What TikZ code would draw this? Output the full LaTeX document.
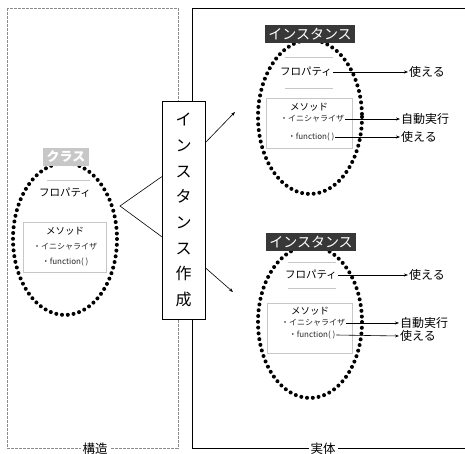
\documentclass[tikz,border=0pt]{standalone}
\usepackage{fontspec}
\setmainfont{Noto Sans CJK JP}
\usetikzlibrary{arrows.meta,calc}
\begin{document}
\begin{tikzpicture}[x=1pt,y=-1pt,
  dotell/.style={draw, line width=4pt, dash pattern=on 0pt off 5.8pt, line cap=round},
  inst/.style={fill=black!78, text=white, font=\fontsize{14}{15}\selectfont, minimum width=90pt, minimum height=18pt, inner sep=0pt},
  cls/.style={fill=black!22, text=white, font=\fontsize{13}{14}\selectfont\bfseries, minimum width=46pt, minimum height=18pt, inner sep=0pt},
  prop/.style={font=\fontsize{10.5}{11}\selectfont, inner sep=1pt},
  meth/.style={font=\fontsize{9.5}{10}\selectfont, inner sep=1pt},
  item/.style={font=\fontsize{8}{9}\selectfont, inner sep=1pt, text=black!85},
  res/.style={font=\fontsize{12}{13}\selectfont, anchor=west, inner sep=1pt},
  arr/.style={-{Stealth[length=4pt,width=3pt]}, line width=0.6pt},
  sep/.style={draw=black!22, line width=0.4pt},
  panellabel/.style={fill=white, font=\fontsize{12.5}{13}\selectfont, inner sep=2pt}
]
\useasboundingbox (0,0) rectangle (465,454);
% panels
\draw[black!45, dash pattern=on 3pt off 1pt, line width=0.5pt] (7,8) rectangle (178,448);
\node[panellabel] (kozo) at (95,449) {構造};
\draw[line width=1pt] (465,9) -- (192,9) -- (192,448) -- (465,448);
\node[panellabel] (jittai) at (323,449) {実体};

% class
\draw[dotell] (65,239) ellipse [x radius=52, y radius=76];
\node[cls] (cls) at (66,157) {クラス};
\draw[sep] (47,180) -- (90,180);
\node[prop] (lprop) at (65,193) {フロパティ};
\draw[sep] (23,222) rectangle (106,272);
\node[meth] (lmeth) at (65,231) {メソッド};
\node[item] (linit) at (65,247) {・イニシャライザ};
\node[item] (lfunc) at (65,262) {・function( )};

% instance creation box
\node[draw, fill=white, line width=0.6pt, minimum width=43pt, minimum height=218pt, inner sep=0pt, align=center, font=\fontsize{16}{25.7}\selectfont] (make) at (183.5,210) {イ\\ン\\ス\\タ\\ン\\ス\\作\\成};
\coordinate (tip) at (120,206);
\draw[line width=0.6pt] ($(make.north west)+(0,76)$) -- (tip) -- ($(make.north west)+(0,136)$);
\coordinate (t1) at (235,112);
\coordinate (t2) at (233,292);
\draw[arr] ($(make.north east)+(0,42)$) -- (t1);
\draw[arr] ($(make.north east)+(0,167)$) -- (t2);

% top instance
\draw[dotell] (310,117) ellipse [x radius=52, y radius=77];
\node[inst] (i1) at (310,34) {インスタンス};
\draw[sep] (285,57) -- (333,57);
\draw[sep] (285,88) -- (333,88);
\node[prop] (p1) at (306,72) {フロパティ};
\node[res] (u1) at (408,72) {使える};
\draw[arr] (p1.east) -- (u1.west);
\draw[sep] (266,98) rectangle (352,148);
\node[meth] (m1) at (309,107) {メソッド};
\node[item] (a1) at (312,119) {・イニシャライザ};
\node[item] (f1) at (311,137) {・function( )};
\node[res] (j1) at (400,119) {自動実行};
\node[res] (v1) at (400,137) {使える};
\draw[arr] (a1.east) -- (j1.west);
\draw[arr] (f1.east) -- (v1.west);

% bottom instance
\draw[dotell] (310,322) ellipse [x radius=52, y radius=76];
\node[inst] (i2) at (311,242) {インスタンス};
\draw[sep] (288,262) -- (336,262);
\draw[sep] (288,288) -- (336,288);
\node[prop] (p2) at (311,275) {フロパティ};
\node[res] (u2) at (408,275) {使える};
\draw[arr] (p2.east) -- (u2.west);
\draw[sep] (267,303) rectangle (352,353);
\node[meth] (m2) at (310,311) {メソッド};
\node[item] (a2) at (313,323) {・イニシャライザ};
\node[item] (f2) at (312,335) {・function( )};
\node[res] (j2) at (399,323) {自動実行};
\node[res] (v2) at (399,336) {使える};
\draw[arr] (a2.east) -- (j2.west);
\draw[arr] (f2.east) -- (v2.west);
\end{tikzpicture}
\end{document}
